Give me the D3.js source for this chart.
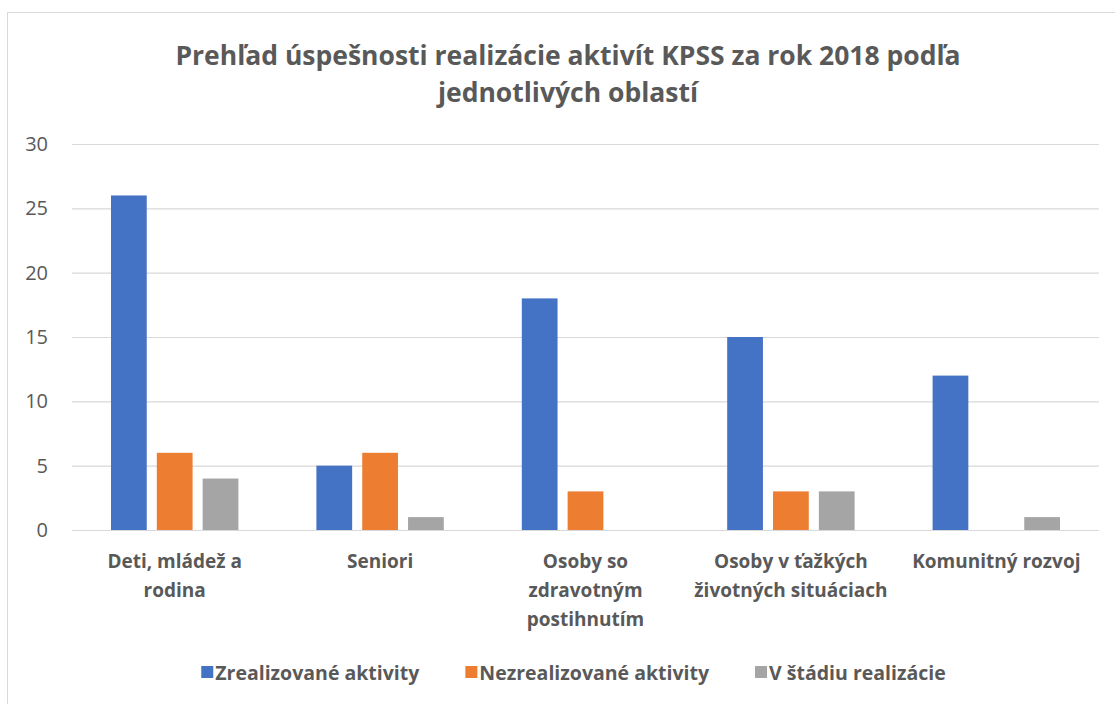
<!DOCTYPE html>
<html>
<head>
<meta charset="utf-8">
<script src="https://cdn.jsdelivr.net/npm/d3@7"></script>
<style>
  body { margin: 0; background: #fff; }
  svg text { font-family: "Open Sans", "Noto Sans", sans-serif; fill: #595959; }
</style>
</head>
<body>
<div class="chart"></div>
<script>
// data
const categories = [
    ["Deti, mládež a", "rodina"],
    ["Seniori"],
    ["Osoby so", "zdravotným", "postihnutím"],
    ["Osoby v ťažkých", "životných situáciach"],
    ["Komunitný rozvoj"]
];
const seriesNames = ["Zrealizované aktivity", "Nezrealizované aktivity", "V štádiu realizácie"];
const zrealizovane = [26, 5, 18, 15, 12];
const nezrealizovane = [6, 6, 3, 3, 0];
const vStadiu = [4, 1, 0, 3, 1];
const yTicks = [0, 5, 10, 15, 20, 25, 30];
const colors = ["#4472C4", "#ED7D31", "#A5A5A5"];
const titleLines = ["Prehľad úspešnosti realizácie aktivít KPSS za rok 2018 podľa", "jednotlivých oblastí"];

const w = 1115;
const h = 704;
const series = [zrealizovane, nezrealizovane, vStadiu];

const svg = d3.select(".chart")
              .append("svg")
              .attr("width", w)
              .attr("height", h);

// chart frame
svg.append("rect")
   .attr("x", 7.5)
   .attr("y", 12.5)
   .attr("width", 1130)
   .attr("height", 720)
   .attr("fill", "none")
   .attr("stroke", "#d9d9d9");

// title
svg.append("g").selectAll("text")
   .data(titleLines)
   .enter()
   .append("text")
   .attr("x", 568)
   .attr("y", (d, i) => 65 + i * 37)
   .attr("text-anchor", "middle")
   .attr("font-size", 26.5)
   .attr("font-weight", "bold")
   .text(d => d);

const plotL = 72, plotR = 1099, plotT = 144, plotB = 530;

const xScale = d3.scaleBand()
                 .domain(d3.range(categories.length))
                 .range([plotL, plotR])
                 .paddingInner(0)
                 .paddingOuter(0);

const xInner = d3.scaleBand()
                 .domain(d3.range(series.length))
                 .range([39, xScale.bandwidth() - 39])
                 .paddingInner(0.22);

const yScale = d3.scaleLinear()
                 .domain([0, 30])
                 .range([plotB, plotT]);

// gridlines + y labels
const yAxis = svg.append("g")
                 .attr("transform", `translate(${plotL},0)`)
                 .call(d3.axisLeft(yScale).tickValues(yTicks).tickSize(-(plotR - plotL)).tickPadding(24));
yAxis.select(".domain").remove();
yAxis.selectAll(".tick line").attr("stroke", "#d9d9d9").attr("stroke-width", 1.2);
yAxis.selectAll(".tick text")
     .attr("font-size", 20)
     .attr("fill", "#595959")
     .style("font-family", "'Open Sans', 'Noto Sans', sans-serif");

// bars
const groups = svg.append("g").selectAll("g")
                  .data(categories)
                  .enter()
                  .append("g")
                  .attr("transform", (d, i) => `translate(${xScale(i)},0)`);

groups.selectAll("rect")
      .data((d, i) => series.map((s, j) => ({ j: j, v: s[i] })))
      .enter()
      .append("rect")
      .attr("x", d => xInner(d.j))
      .attr("y", d => yScale(d.v))
      .attr("width", xInner.bandwidth())
      .attr("height", d => plotB - yScale(d.v))
      .attr("fill", d => colors[d.j]);

// category labels
groups.append("text")
      .attr("text-anchor", "middle")
      .attr("font-size", 19)
      .attr("font-weight", "bold")
      .selectAll("tspan")
      .data(d => d)
      .enter()
      .append("tspan")
      .attr("x", xScale.bandwidth() / 2)
      .attr("y", (d, i) => 568 + i * 29)
      .text(d => d);

// legend
const legend = svg.append("g");
const items = legend.selectAll("g")
                    .data(seriesNames)
                    .enter()
                    .append("g");
items.append("rect")
     .attr("width", 12)
     .attr("height", 12)
     .attr("y", 666)
     .attr("fill", (d, i) => colors[i]);
items.append("text")
     .attr("x", 14)
     .attr("y", 680)
     .attr("font-size", 19.5)
     .attr("font-weight", "bold")
     .text(d => d);

let lx = 0;
const gap = 46;
items.each(function() {
    const g = d3.select(this);
    g.attr("transform", `translate(${lx},0)`);
    lx += 14 + g.select("text").node().getComputedTextLength() + gap;
});
lx -= gap;
legend.attr("transform", `translate(${(plotL + plotR) / 2 - lx / 2 - 12},0)`);
</script>
</body>
</html>
